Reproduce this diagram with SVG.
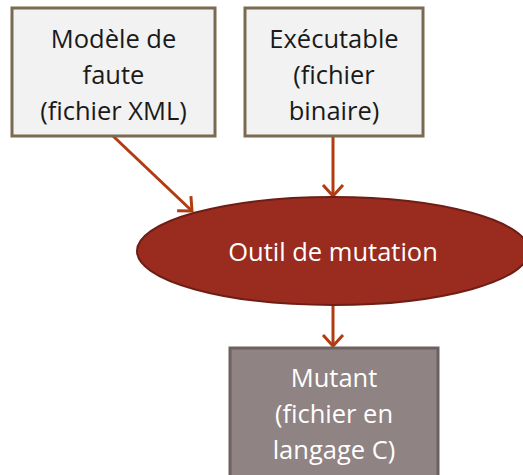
<svg xmlns="http://www.w3.org/2000/svg" width="523" height="475" viewBox="0 0 523 475">
<style>
.box{fill:#f2f2f2;stroke:#7a6a50;stroke-width:3}
.t{font-family:"Open Sans","Liberation Sans",sans-serif;font-size:25.5px;text-anchor:middle;fill:#1a1a1a}
.w{fill:#ffffff}
.c{stroke:#b23c12;stroke-width:3;fill:none}
</style>
<defs>
<marker id="ah" markerWidth="24" markerHeight="24" viewBox="-2 -2 24 24" refX="12" refY="10" orient="auto" markerUnits="userSpaceOnUse">
<path d="M1,0 L12,10 L1,20" fill="none" stroke="#b23c12" stroke-width="3"/>
</marker>
</defs>
<g id="connectors">
<line class="c" x1="113" y1="136" x2="192" y2="211" marker-end="url(#ah)"/>
<line class="c" x1="333" y1="136" x2="333" y2="196" marker-end="url(#ah)"/>
<line class="c" x1="333" y1="305" x2="333" y2="346" marker-end="url(#ah)"/>
</g>
<g id="n1">
<rect class="box" x="12" y="8" width="203" height="128"/>
<text class="t" x="113.5" y="48">Modèle de</text>
<text class="t" x="113.5" y="84">faute</text>
<text class="t" x="113.5" y="120">(fichier XML)</text>
</g>
<g id="n2">
<rect class="box" x="245" y="8" width="178" height="128"/>
<text class="t" x="334" y="48">Exécutable</text>
<text class="t" x="334" y="84">(fichier</text>
<text class="t" x="334" y="120">binaire)</text>
</g>
<g id="n3">
<ellipse cx="333" cy="251" rx="196" ry="54" fill="#9a2b1f" stroke="#6e1e15" stroke-width="2"/>
<text class="t w" x="333" y="261">Outil de mutation</text>
</g>
<g id="n4">
<rect x="230" y="348" width="208" height="130" fill="#8f8383" stroke="#6d6060" stroke-width="3"/>
<text class="t w" x="334" y="387">Mutant</text>
<text class="t w" x="334" y="423">(fichier en</text>
<text class="t w" x="334" y="459">langage C)</text>
</g>
</svg>
